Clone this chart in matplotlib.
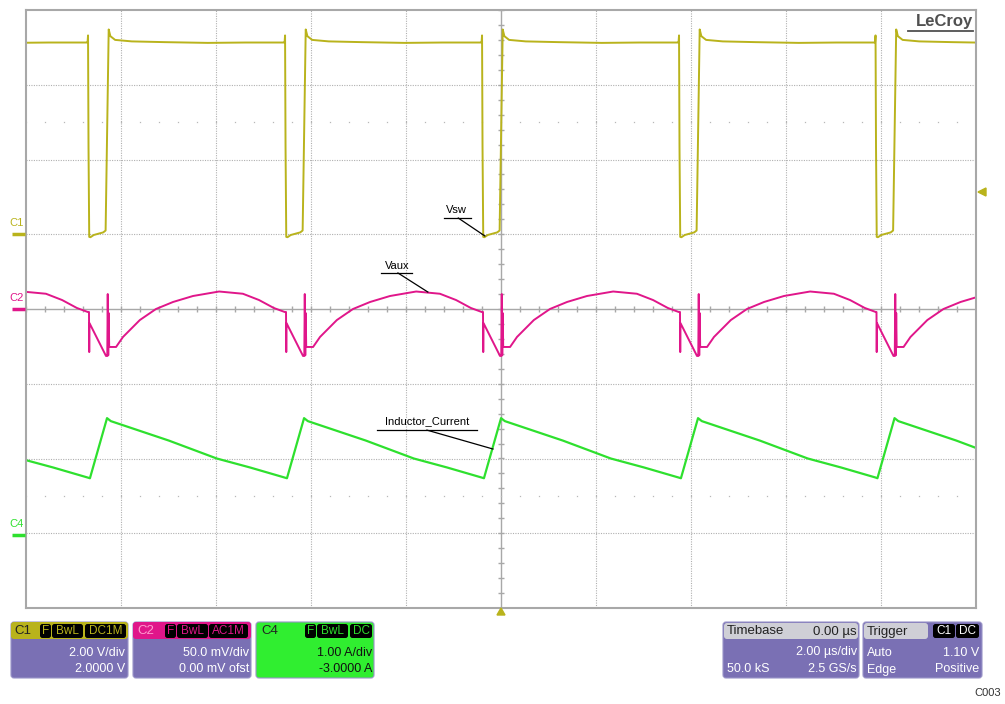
import numpy as np
import matplotlib
matplotlib.use("Agg")
import matplotlib.pyplot as plt
from matplotlib.patches import FancyBboxPatch, Polygon

plt.rcParams['font.family'] = ['Liberation Sans', 'DejaVu Sans']

# falling edges of Vsw (us); first one is just before the screen
edges_us = [-12.82, -8.674, -4.526, -0.379, 3.768, 7.905]

# one switching period of each trace, time relative to the falling edge (us)
vsw_t = [-0.03, -0.02, -0.01, 0.005, 0.03, 0.10, 0.30, 0.35, 0.415, 0.45, 0.55, 0.90, 1.6, 2.5, 3.3, 4.10]
vsw_v = [5.13, 5.32, 2.34, -0.07, -0.08, -0.02, 0.05, 0.10, 5.48, 5.30, 5.20, 5.16, 5.14, 5.12, 5.13, 5.13]

vaux_t = [0.0, 0.005, 0.01, 0.358, 0.385, 0.395, 0.405, 0.415, 0.425, 0.57, 0.716, 1.07,
          1.41, 1.77, 2.19, 2.74, 3.24, 3.58, 3.89, 4.12]
vaux_mv = [-2.0, -28.8, -9.4, -31.4, -31.4, 10.0, -31.0, -2.7, -25.4, -25.4, -18.7, -7.4,
           0.0, 4.7, 8.7, 11.7, 10.2, 6.0, 0.7, -2.0]

il_t = [0.02, 0.38, 0.46, 1.68, 2.69, 3.39, 4.12]
il_a = [0.736, 1.54, 1.50, 1.24, 1.00, 0.88, 0.745]

# channel settings (from the readout panels)
c1_scale, c1_zero = 2.0, 1.0       # V/div, zero position in div
c2_scale, c2_zero = 50.0, 0.0      # mV/div
c4_scale, c4_zero = 1.0, -3.0      # A/div

col_c1 = '#b9b31c'
col_c2 = '#e0168a'
col_c4 = '#2ee02e'
col_panel = '#7a70b4'


def tile(tt, yy):
    t = np.concatenate([e + np.array(tt) for e in edges_us])
    y = np.tile(np.array(yy, dtype=float), len(edges_us))
    return t, y


W, H = 1005, 704
fig = plt.figure(figsize=(W / 100, H / 100), dpi=100)
fig.patch.set_facecolor('white')

x0, x1, y0, y1 = 26, 976, 10, 608
ax = fig.add_axes([x0 / W, 1 - y1 / H, (x1 - x0) / W, (y1 - y0) / H])
ax.set_xlim(-10, 10)
ax.set_ylim(-4, 4)
ax.set_xticks([])
ax.set_yticks([])
for s in ax.spines.values():
    s.set_color('#a8a8a8')
    s.set_linewidth(1.5)

# graticule
for gx in np.arange(-8, 9, 2):
    if gx != 0:
        ax.axvline(gx, color='#b0b0b0', lw=0.8, ls=(0, (1, 1.2)), zorder=0)
for gy in range(-3, 4):
    if gy != 0:
        ax.axhline(gy, color='#b0b0b0', lw=0.8, ls=(0, (1, 1.2)), zorder=0)
ax.axvline(0, color='#a8a8a8', lw=1.0, zorder=0)
ax.axhline(0, color='#a8a8a8', lw=1.0, zorder=0)
tx = np.arange(-10, 10.01, 0.4)
ax.vlines(tx, -0.045, 0.045, color='#a8a8a8', lw=1.0, zorder=0)
ty = np.arange(-4, 4.01, 0.2)
ax.hlines(ty, -0.07, 0.07, color='#a8a8a8', lw=1.0, zorder=0)
for ry in (2.5, -2.5):
    ax.plot(tx, np.full_like(tx, ry), ls='none', marker='s', ms=0.9, mew=0,
            color='#b8b8b8', zorder=0)

# traces
t1, v1 = tile(vsw_t, vsw_v)
ax.plot(t1, v1 / c1_scale + c1_zero, color=col_c1, lw=1.4)
t2, v2 = tile(vaux_t, vaux_mv)
ax.plot(t2, v2 / c2_scale + c2_zero, color=col_c2, lw=1.4)
t4, v4 = tile(il_t, il_a)
ax.plot(t4, v4 / c4_scale + c4_zero, color=col_c4, lw=1.6)

# labels with leader lines
def label(text, cx, cy, ux0, ux1, uy, lx, ly):
    ax.text(cx, cy, text, fontsize=8, ha='center', va='center', color='black')
    ax.plot([ux0, ux1], [uy, uy], color='black', lw=0.9)
    ax.plot([lx[0], lx[1]], [ly[0], ly[1]], color='black', lw=0.9)

label('Vsw', -0.93, 1.32, -1.20, -0.63, 1.217, (-0.90, -0.34), (1.217, 0.977))
label('Vaux', -2.19, 0.58, -2.53, -1.87, 0.482, (-2.17, -1.54), (0.482, 0.227))
label('Inductor_Current', -1.56, -1.50, -2.61, -0.50, -1.62, (-1.56, -0.17), (-1.62, -1.873))

ax.text(9.94, 3.84, 'LeCroy', fontsize=12, fontweight='bold', color='#505050',
        ha='right', va='center')
ax.plot([8.57, 9.94], [3.72, 3.72], color='#505050', lw=1.3)

# overlay in pixel coordinates
ov = fig.add_axes([0, 0, 1, 1], facecolor='none')
ov.set_xlim(0, W)
ov.set_ylim(H, 0)
ov.axis('off')

for name, col, yp in (('C1', col_c1, 234), ('C2', col_c2, 309), ('C4', col_c4, 535)):
    ov.text(9, yp - 11, name, fontsize=8, color=col, ha='left', va='center')
    ov.plot([12, 25], [yp, yp], color=col, lw=2.5, solid_capstyle='butt')

ov.add_patch(Polygon([[978, 192], [986, 188], [986, 196]], closed=True, color=col_c1))
ov.add_patch(Polygon([[501, 608], [497, 615], [505, 615]], closed=True, color=col_c1))


def box(xa, xb, ya, yb, fc, r=3):
    ov.add_patch(FancyBboxPatch((xa, ya), xb - xa, yb - ya,
                                boxstyle='round,pad=0,rounding_size=%g' % r,
                                fc=fc, ec='#9a94c8', lw=0.8))


def badges(items, fg):
    for txt, xa, xb in items:
        ov.add_patch(FancyBboxPatch((xa, 624), xb - xa, 14,
                                    boxstyle='round,pad=0,rounding_size=2.5',
                                    fc='black', ec='none'))
        ov.text((xa + xb) / 2, 631.5, txt, fontsize=8.5, color=fg, ha='center', va='center')


ty_h, ty_2, ty_3 = 631.5, 652.5, 669.5
fs = 9

# C1 panel
box(11, 128, 622, 678, col_panel)
ov.add_patch(FancyBboxPatch((11, 622), 117, 17, boxstyle='round,pad=0,rounding_size=3',
                            fc=col_c1, ec='none'))
ov.text(14, ty_h, 'C1', fontsize=9.5, color='#222222', va='center')
badges([('F', 40, 51), ('BwL', 52, 83), ('DC1M', 85, 126)], col_c1)
ov.text(125, ty_2, '2.00 V/div', fontsize=fs, color='white', ha='right', va='center')
ov.text(125, ty_3, '2.0000 V', fontsize=fs, color='white', ha='right', va='center')

# C2 panel
box(133, 251, 622, 678, col_panel)
ov.add_patch(FancyBboxPatch((133, 622), 118, 17, boxstyle='round,pad=0,rounding_size=3',
                            fc=col_c2, ec='none'))
ov.text(137, ty_h, 'C2', fontsize=9.5, color='#ff9ad0', va='center')
badges([('F', 165, 176), ('BwL', 177, 208), ('AC1M', 209, 248)], col_c2)
ov.text(249, ty_2, '50.0 mV/div', fontsize=fs, color='white', ha='right', va='center')
ov.text(249, ty_3, '0.00 mV ofst', fontsize=fs, color='white', ha='right', va='center')

# C4 panel
box(256, 374, 622, 678, '#30ee30')
ov.text(261, ty_h, 'C4', fontsize=9.5, color='#222222', va='center')
badges([('F', 305, 316), ('BwL', 317, 348), ('DC', 350, 372)], col_c4)
ov.text(372, ty_2, '1.00 A/div', fontsize=fs, color='#111111', ha='right', va='center')
ov.text(372, ty_3, '-3.0000 A', fontsize=fs, color='#111111', ha='right', va='center')

# Timebase panel
box(723, 859, 622, 678, col_panel)
ov.add_patch(FancyBboxPatch((724, 623), 134, 16, boxstyle='round,pad=0,rounding_size=3',
                            fc='#cfcfd6', ec='none'))
ov.text(727, ty_h, 'Timebase', fontsize=fs + 0.5, color='#222222', va='center')
ov.text(857, ty_h, '0.00 µs', fontsize=fs + 0.5, color='#222222', ha='right', va='center')
ov.text(857, ty_2, '2.00 µs/div', fontsize=fs, color='white', ha='right', va='center')
ov.text(727, ty_3, '50.0 kS', fontsize=fs, color='white', ha='left', va='center')
ov.text(857, ty_3, '2.5 GS/s', fontsize=fs, color='white', ha='right', va='center')

# Trigger panel
box(863, 982, 622, 678, col_panel)
ov.add_patch(FancyBboxPatch((864, 623), 64, 16, boxstyle='round,pad=0,rounding_size=3',
                            fc='#cfcfd6', ec='none'))
ov.text(867, ty_h, 'Trigger', fontsize=fs + 0.5, color='#222222', va='center')
badges([('C1', 933, 955), ('DC', 956, 979)], 'white')
ov.text(867, ty_2, 'Auto', fontsize=fs, color='white', ha='left', va='center')
ov.text(979, ty_2, '1.10 V', fontsize=fs, color='white', ha='right', va='center')
ov.text(867, ty_3, 'Edge', fontsize=fs, color='white', ha='left', va='center')
ov.text(979, ty_3, 'Positive', fontsize=fs, color='white', ha='right', va='center')

ov.text(1001, 693, 'C003', fontsize=8, color='#333333', ha='right', va='center')

fig.savefig('out.png', dpi=100)
